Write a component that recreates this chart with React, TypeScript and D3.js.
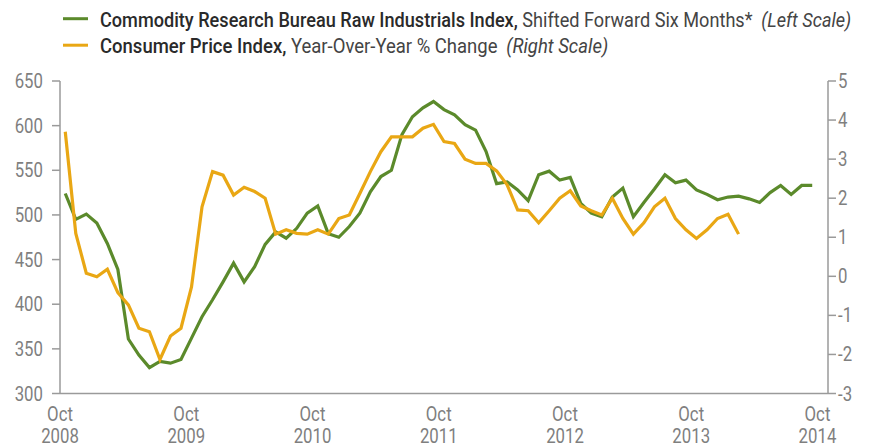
import React, { useLayoutEffect, useRef, useState } from "react";
import * as d3 from "d3";

const crbIndex = [524,495,501,491,468,439,361,343,329,336,334,338,362,386,405,425,446,425,442,467,481,474,485,502,510,479,475,487,502,526,543,550,590,610,620,627,618,612,601,595,571,535,537,528,516,545,549,539,542,513,502,498,520,530,498,514,529,545,536,539,528,523,517,520,521,518,514,525,533,523,533,533];
const cpiYoY = [3.70,1.10,0.08,-0.01,0.18,-0.42,-0.73,-1.33,-1.42,-2.13,-1.53,-1.33,-0.27,1.78,2.68,2.59,2.08,2.28,2.17,2.0,1.08,1.19,1.10,1.08,1.19,1.08,1.48,1.57,2.12,2.68,3.19,3.57,3.57,3.57,3.79,3.89,3.45,3.40,3.0,2.89,2.89,2.70,2.34,1.70,1.68,1.37,1.68,2.0,2.19,1.80,1.68,1.57,2.0,1.48,1.08,1.37,1.78,2.0,1.48,1.19,0.97,1.19,1.48,1.59,1.08];
const xTickYears = ["2008","2009","2010","2011","2012","2013","2014"];
const xTickMonth = "Oct";
const leftTicks = [300,350,400,450,500,550,600,650];
const rightTicks = [-3,-2,-1,0,1,2,3,4,5];
const legendItems = [
  { strong: "Commodity Research Bureau Raw Industrials Index,", rest: " Shifted Forward Six Months*", note: "(Left Scale)" },
  { strong: "Consumer Price Index,", rest: " Year-Over-Year % Change", note: "(Right Scale)" },
];

const GREEN = "#5b8a2b";
const ORANGE = "#e9a714";
const AXIS = "#9a9a9a";
const TICKTXT = "#7f7f7f";
const FONT = "Roboto, 'Noto Sans', sans-serif";
const SX = 0.84;

function CText({ x, y, anchor, children, size = 20, fill = TICKTXT }: any) {
  return (
    <text transform={`translate(${x},${y}) scale(${SX},1)`} textAnchor={anchor} fontSize={size} fill={fill}>
      {children}
    </text>
  );
}

function LegendLine({ x, y, target, item }: any) {
  const ref = useRef<SVGTextElement>(null);
  const [s, setS] = useState(0.88);
  useLayoutEffect(() => {
    if (ref.current) {
      const w = ref.current.getBBox().width;
      if (w > 0) setS(target / w);
    }
  }, [target]);
  return (
    <text ref={ref} transform={`translate(${x},${y}) scale(${s},1)`} fontSize={21} fill="#333">
      <tspan fill="#2a2a2a" fontWeight={500}>{item.strong}</tspan>
      <tspan fill="#444">{item.rest}</tspan>
      <tspan fill="#444" fontStyle="italic" dx={10}>{item.note}</tspan>
    </text>
  );
}

export default function App() {
  const W = 872, H = 447;
  const left = 60, right = 828, top = 81, bottom = 393.5;
  const nMonths = 73;
  const x = d3.scaleLinear().domain([0, nMonths]).range([left, right]);
  const yL = d3.scaleLinear().domain([300, 650]).range([bottom, top]);
  const yR = d3.scaleLinear().domain([-3, 5]).range([bottom, top]);

  const lineL = d3.line<number>().x((_, i) => x(i + 0.5)).y(d => yL(d));
  const lineR = d3.line<number>().x((_, i) => x(i + 0.5)).y(d => yR(d));

  const legendLen = [751, 508];

  return (
    <svg width={W} height={H} style={{ position: "absolute", left: 0, top: 0, background: "#fff" }} fontFamily={FONT}>
      {/* legend */}
      {legendItems.map((it, k) => {
        const cy = 18.7 + k * 26.5;
        return (
          <g key={k}>
            <line x1={63} x2={88} y1={cy} y2={cy} stroke={k === 0 ? GREEN : ORANGE} strokeWidth={3} />
            <LegendLine x={100} y={cy + 7.8} target={legendLen[k]} item={it} />
          </g>
        );
      })}

      {/* axes */}
      <line x1={left} x2={left} y1={top} y2={bottom} stroke={AXIS} strokeWidth={1.5} />
      <line x1={right} x2={right} y1={top} y2={bottom} stroke={AXIS} strokeWidth={1.5} />
      <line x1={left} x2={right} y1={bottom} y2={bottom} stroke={AXIS} strokeWidth={1.5} />
      {leftTicks.map(t => (
        <g key={"l" + t}>
          <line x1={left - 8} x2={left} y1={yL(t)} y2={yL(t)} stroke={AXIS} strokeWidth={1.5} />
          <CText x={left - 17} y={yL(t) + 7} anchor="end">{t}</CText>
        </g>
      ))}
      {rightTicks.map(t => (
        <g key={"r" + t}>
          <line x1={right} x2={right + 8} y1={yR(t)} y2={yR(t)} stroke={AXIS} strokeWidth={1.5} />
          <CText x={right + 10} y={yR(t) + 7} anchor="start">{t}</CText>
        </g>
      ))}
      {xTickYears.map((yr, k) => {
        const xx = x(k * 12);
        return (
          <g key={yr}>
            <CText x={xx} y={421} anchor="middle">{xTickMonth}</CText>
            <CText x={xx} y={442.5} anchor="middle">{yr}</CText>
          </g>
        );
      })}

      {/* series */}
      <path d={lineL(crbIndex) || ""} fill="none" stroke={GREEN} strokeWidth={3.2} strokeLinejoin="miter" />
      <path d={lineR(cpiYoY) || ""} fill="none" stroke={ORANGE} strokeWidth={3.2} strokeLinejoin="miter" />
    </svg>
  );
}
